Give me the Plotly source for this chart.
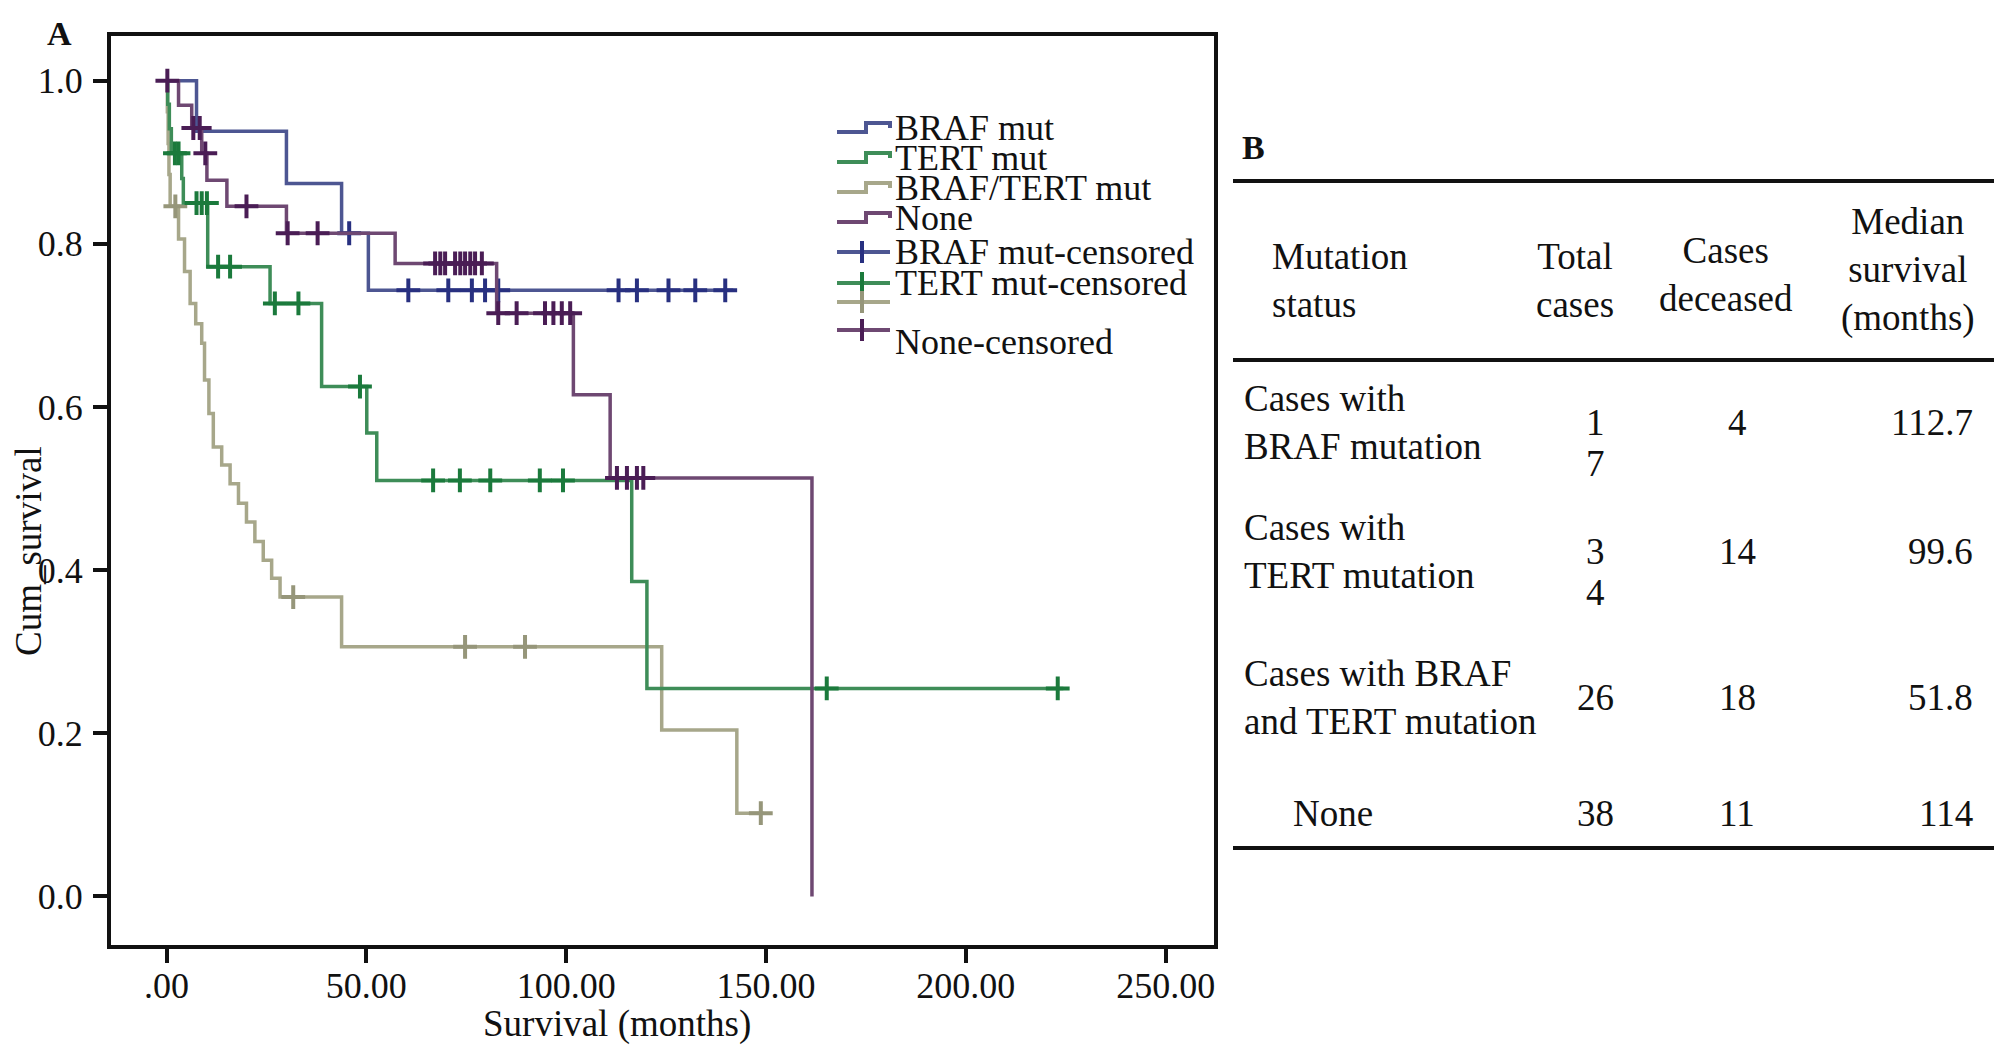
import plotly.graph_objects as go

# Kaplan-Meier curves (months, cumulative survival)
braf_time = [0, 7.5, 30.0, 43.8, 50.5, 141.8]
braf_surv = [1.0, 0.938, 0.874, 0.813, 0.743, 0.743]
braf_censored = [45.7, 60.5, 70.5, 76.4, 79.7, 83.0, 113.1, 117.7, 125.6, 132.3, 139.8]

tert_time = [0, 0.3, 0.7, 1.2, 3.8, 4.2, 10.3, 25.9, 38.8, 50.1, 52.6, 116.4, 120.2, 224.4]
tert_surv = [1.0, 0.971, 0.941, 0.911, 0.880, 0.850, 0.772, 0.727, 0.625, 0.568, 0.510, 0.386, 0.255, 0.255]
tert_censored = [2.1, 3.0, 7.5, 8.8, 10.1, 12.9, 15.9, 27.1, 33.0, 48.4,
                 66.7, 73.4, 81.0, 93.4, 99.2, 165.2, 223.0]

both_time = [0, 0.2, 0.4, 0.6, 0.9, 3.0, 4.5, 5.9, 7.3, 8.8, 9.5, 10.6, 11.7, 13.8,
             15.9, 18.0, 20.0, 22.1, 24.2, 26.3, 28.4, 43.8, 123.9, 142.7, 149.4]
both_surv = [1.0, 0.962, 0.923, 0.885, 0.846, 0.806, 0.766, 0.727, 0.702, 0.678, 0.633,
             0.592, 0.551, 0.529, 0.506, 0.482, 0.459, 0.435, 0.412, 0.390, 0.367, 0.306,
             0.204, 0.102, 0.102]
both_censored = [2.2, 31.7, 74.7, 89.7, 148.7]

none_time = [0, 3.0, 6.3, 8.8, 10.1, 15.1, 30.0, 57.2, 82.6, 101.8, 111.0, 161.5]
none_surv = [1.0, 0.970, 0.942, 0.911, 0.878, 0.846, 0.813, 0.776, 0.715, 0.615, 0.513, 0.0]
none_censored = [0.2, 6.7, 8.3, 9.7, 20.0, 30.3, 37.8,
                 67.2, 68.5, 69.7, 72.2, 73.5, 74.7, 76.0, 77.2, 78.9,
                 83.0, 87.6, 94.7, 96.8, 98.9, 101.0, 112.7, 115.2, 117.7, 119.3]

x_ticks = [0, 50, 100, 150, 200, 250]
x_tick_labels = [".00", "50.00", "100.00", "150.00", "200.00", "250.00"]
y_ticks = [0.0, 0.2, 0.4, 0.6, 0.8, 1.0]

legend_labels = ["BRAF mut", "TERT mut", "BRAF/TERT mut", "None",
                 "BRAF mut-censored", "TERT mut-censored", "", "None-censored"]

# panel B table
table_header = ["Mutation<br>status", "Total<br>cases", "Cases<br>deceased",
                "Median<br>survival<br>(months)"]
table_status = ["Cases with<br>BRAF mutation", "Cases with<br>TERT mutation",
                "Cases with BRAF<br>and TERT mutation", "None"]
table_total = ["1<br>7", "3<br>4", "26", "38"]
table_deceased = ["4", "14", "18", "11"]
table_median = ["112.7", "99.6", "51.8", "114"]

W, H = 2008, 1057
FONT = "Liberation Serif, Times New Roman, serif"


def px(x):
    return x / W


def py(y):
    return 1 - y / H


def surv_at(t, times, surv):
    s = surv[0]
    for ti, si in zip(times, surv):
        if ti <= t:
            s = si
    return s


groups = [
    ("BRAF/TERT mut", both_time, both_surv, both_censored, "#a7a78a", "#96967a"),
    ("TERT mut", tert_time, tert_surv, tert_censored, "#3e8d58", "#1b7a3c"),
    ("BRAF mut", braf_time, braf_surv, braf_censored, "#4d5692", "#283080"),
    ("None", none_time, none_surv, none_censored, "#6e4872", "#4a1d55"),
]

fig = go.Figure()
for name, t, s, cens, lc, mc in groups:
    fig.add_trace(go.Scatter(x=t, y=s, mode="lines", line_shape="hv",
                             line=dict(color=lc, width=3.5), name=name, showlegend=False))
    fig.add_trace(go.Scatter(x=cens, y=[surv_at(c, t, s) for c in cens], mode="markers",
                             marker=dict(symbol="cross-thin", size=17,
                                         line=dict(color=mc, width=4)),
                             name=name + "-censored", showlegend=False))

fig.update_layout(
    width=W, height=H,
    margin=dict(l=0, r=0, t=0, b=0),
    paper_bgcolor="white", plot_bgcolor="white",
    font=dict(family=FONT, size=36, color="#111111"),
    xaxis=dict(domain=[px(111), px(1214)], range=[-13.9, 262.1],
               tickvals=x_ticks, ticktext=x_tick_labels,
               showline=True, mirror=True, linewidth=4, linecolor="#111111",
               ticks="outside", ticklen=14, tickwidth=4, tickcolor="#111111",
               ticklabelstandoff=-8, showgrid=False, zeroline=False),
    yaxis=dict(domain=[py(945), py(36)], range=[-0.0596, 1.0548],
               tickvals=y_ticks, tickformat=".1f",
               showline=True, mirror=True, linewidth=4, linecolor="#111111",
               ticks="outside", ticklen=14, tickwidth=4, tickcolor="#111111",
               ticklabelstandoff=3, showgrid=False, zeroline=False),
)

ann = []
shapes = []

# axis titles and panel letters
ann.append(dict(text="Cum_survival", x=px(28), y=py(551), textangle=-90,
                font=dict(size=37)))
ann.append(dict(text="Survival (months)", x=px(617), y=py(1024), font=dict(size=37)))
ann.append(dict(text="<b>A</b>", x=px(59), y=py(34), font=dict(size=34)))
ann.append(dict(text="<b>B</b>", x=px(1253), y=py(147), font=dict(size=34)))

# legend drawn inside the plot
glyph_y = [128, 158, 188, 218, 252, 283, 302, 330]
text_y = [128, 158, 188, 218, 252, 283, 302, 342]
legend_colors = ["#4d5692", "#3e8d58", "#a7a78a", "#6e4872",
                 "#4d5692", "#3e8d58", "#a7a78a", "#6e4872"]
marker_colors = ["#283080", "#1b7a3c", "#96967a", "#4a1d55"]
for i, label in enumerate(legend_labels):
    gy = glyph_y[i]
    col = legend_colors[i]
    if i < 4:
        path = (f"M {px(837)},{py(gy + 4)} L {px(866)},{py(gy + 4)} "
                f"L {px(866)},{py(gy - 5)} L {px(890)},{py(gy - 5)} L {px(890)},{py(gy)}")
        shapes.append(dict(type="path", path=path, xref="paper", yref="paper",
                           line=dict(color=col, width=4)))
    else:
        shapes.append(dict(type="line", xref="paper", yref="paper",
                           x0=px(837), x1=px(890), y0=py(gy), y1=py(gy),
                           line=dict(color=col, width=4)))
        shapes.append(dict(type="line", xref="paper", yref="paper",
                           x0=px(862), x1=px(862), y0=py(gy - 11), y1=py(gy + 11),
                           line=dict(color=marker_colors[i - 4], width=4)))
    if label:
        ann.append(dict(text=label, x=px(893), y=py(text_y[i]), xanchor="left",
                        font=dict(size=36)))

# table rules
for ry in [181, 360, 848]:
    shapes.append(dict(type="line", xref="paper", yref="paper",
                       x0=px(1233), x1=px(1994), y0=py(ry), y1=py(ry),
                       line=dict(color="#111111", width=4)))

# table header
head_pos = [(1270, 280, "left"), (1575, 280, "center"), (1726, 275, "center"),
            (1908, 270, "center")]
for txt, (hx, hy, al) in zip(table_header, head_pos):
    ann.append(dict(text=txt, x=px(hx), y=py(hy), xanchor=al, align=al,
                    font=dict(size=37)))

# table body
row_centers = [423, 551, 697, 813]
line_step = 41
for i, yc in enumerate(row_centers):
    if table_status[i] == "None":
        ann.append(dict(text=table_status[i], x=px(1333), y=py(yc), font=dict(size=37)))
    else:
        ann.append(dict(text=table_status[i], x=px(1242), y=py(yc), xanchor="left",
                        align="left", font=dict(size=37)))
    for j, part in enumerate(table_total[i].split("<br>")):
        ann.append(dict(text=part, x=px(1595), y=py(yc + j * line_step),
                        font=dict(size=37)))
    ann.append(dict(text=table_deceased[i], x=px(1737), y=py(yc), font=dict(size=37)))
    ann.append(dict(text=table_median[i], x=px(1975), y=py(yc), xanchor="right",
                    font=dict(size=37)))

for a in ann:
    a.setdefault("xref", "paper")
    a.setdefault("yref", "paper")
    a.setdefault("showarrow", False)
    a.setdefault("xanchor", "center")
    a.setdefault("yanchor", "middle")

fig.update_layout(annotations=ann, shapes=shapes)

fig.write_html("out.html", config={"displayModeBar": False},
               post_script="document.body.style.margin = '0';")
